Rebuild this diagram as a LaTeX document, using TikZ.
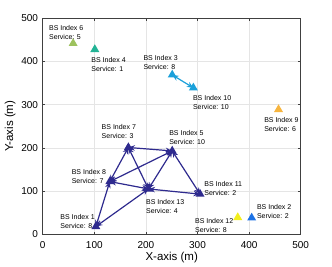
\documentclass[tikz,border=0pt]{standalone}
\usepackage{fontspec}
\setmainfont{Liberation Sans}
\usetikzlibrary{shapes.geometric, arrows.meta, positioning}

\definecolor{netblue}{HTML}{2E2A8E}
\definecolor{svcgreen}{HTML}{9DC25E}
\definecolor{svcteal}{HTML}{22B395}
\definecolor{svccyan}{HTML}{1AA0DA}
\definecolor{svcorange}{HTML}{F7B53F}
\definecolor{svcyellow}{HTML}{F2EE1E}
\definecolor{svcblue}{HTML}{1C72E6}

\begin{document}
\begin{tikzpicture}[
    x=1pt, y=1pt,
    bs/.style={regular polygon, regular polygon sides=3, minimum size=10.4pt, inner sep=0pt},
    bslabel/.style={font=\fontsize{7}{9}\selectfont, align=left, inner sep=0pt, anchor=north west},
    link/.style={{Stealth[length=6.5pt,width=5.5pt]}-{Stealth[length=6.5pt,width=5.5pt]}, line width=1.2pt},
    ticklabel/.style={font=\fontsize{10}{12}\selectfont, inner sep=0pt}
]
\useasboundingbox (0,0) rectangle (332,266);

\begin{scope}[shift={(42.7pt,31.7pt)}, x=0.516pt, y=0.432pt]

% grid
\foreach \v in {100,200,300,400} {
    \draw[black!10, line width=0.5pt] (\v,0) -- (\v,500);
    \draw[black!10, line width=0.5pt] (0,\v) -- (500,\v);
}

% frame and ticks
\draw[black!75, line width=0.6pt] (0,0) rectangle (500,500);
\foreach \v in {0,100,...,500} {
    \draw[black!75, line width=0.6pt] (\v,0) -- ++(0pt,2.5pt) (\v,500) -- ++(0pt,-2.5pt);
    \draw[black!75, line width=0.6pt] (0,\v) -- ++(2.5pt,0pt) (500,\v) -- ++(-2.5pt,0pt);
    \node[ticklabel] (xt\v) at ([yshift=-11pt]\v,0) {\v};
    \node[ticklabel, anchor=east] (yt\v) at ([xshift=-4.5pt]0,\v) {\v};
}
\node[font=\fontsize{11.5}{13}\selectfont, inner sep=0pt] (xlab) at ([yshift=-23pt]250,0) {X-axis (m)};
\node[font=\fontsize{11.5}{13}\selectfont, inner sep=0pt, rotate=90] (ylab) at ([xshift=-32.5pt]0,250) {Y-axis (m)};

% base stations
\node[bs, fill=netblue] (n1) at (103,18) {};
\node[bs, fill=svcblue] (n2) at (405,38) {};
\node[bs, fill=svccyan] (n3) at (251,369) {};
\node[bs, fill=svcteal] (n4) at (101,428) {};
\node[bs, fill=netblue] (n5) at (251,193) {};
\node[bs, fill=svcgreen] (n6) at (59,442) {};
\node[bs, fill=netblue] (n7) at (166,201) {};
\node[bs, fill=netblue] (n8) at (130,122) {};
\node[bs, fill=svcorange] (n9) at (457,289) {};
\node[bs, fill=svccyan] (n10) at (292,339) {};
\node[bs, fill=netblue] (n11) at (305,93) {};
\node[bs, fill=svcyellow] (n12) at (378,39) {};
\node[bs, fill=netblue] (n13) at (205,105) {};

% labels
\node[bslabel] (l1) at (34,46) {BS Index 1\\Service: 8};
\node[bslabel] (l2) at (415,70) {BS Index 2\\Service: 2};
\node[bslabel] (l3) at (195,415) {BS Index 3\\Service: 8};
\node[bslabel] (l4) at (94,410) {BS Index 4\\Service: 1};
\node[bslabel] (l5) at (245,241) {BS Index 5\\Service: 10};
\node[bslabel] (l6) at (12,484) {BS Index 6\\Service: 5};
\node[bslabel] (l7) at (114,255) {BS Index 7\\Service: 3};
\node[bslabel] (l8) at (56,150) {BS Index 8\\Service: 7};
\node[bslabel] (l9) at (429,271) {BS Index 9\\Service: 6};
\node[bslabel] (l10) at (291,322) {BS Index 10\\Service: 10};
\node[bslabel] (l11) at (313,122) {BS Index 11\\Service: 2};
\node[bslabel] (l12) at (295,38) {BS Index 12\\Service: 8};
\node[bslabel] (l13) at (200,81) {BS Index 13\\Service: 4};

% links
\draw[link, svccyan] (n3.center) -- (n10.center);
\foreach \a/\b in {7/5, 7/8, 7/13, 5/8, 5/13, 5/11, 8/13, 8/1, 13/1, 13/11}
    \draw[link, netblue] (n\a.center) -- (n\b.center);

\end{scope}
\end{tikzpicture}
\end{document}
